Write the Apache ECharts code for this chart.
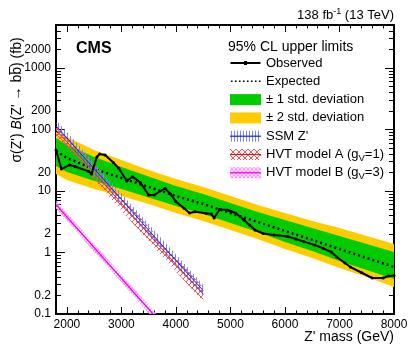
<!DOCTYPE html>
<html>
<head>
<meta charset="utf-8">
<script src="https://cdn.jsdelivr.net/npm/echarts@6/dist/echarts.min.js"></script>
<style>
  html, body { margin: 0; padding: 0; background: #fff; }
  #chart { width: 409px; height: 346px; }
</style>
</head>
<body>
<div id="chart"></div>
<script>
// limits on sigma x B(Z' -> bb), fb
const expMass = [1800, 2000, 2500, 3000, 3500, 4000, 4500, 5000, 5500, 6000, 6500, 7000, 7500, 8000];
const expected = [44.7, 34.4, 22.8, 16.3, 11.6, 8.29, 6.15, 4.39, 3.13, 2.24, 1.60, 1.14, 0.814, 0.581];
const band1Hi = [72.7, 56.0, 35.7, 24.6, 17.2, 12.05, 8.94, 6.38, 4.55, 3.38, 2.51, 1.85, 1.37, 1.02];
const band1Lo = [25.5, 20.4, 14.5, 10.8, 7.83, 5.70, 4.23, 3.02, 2.15, 1.48, 1.06, 0.727, 0.519, 0.371];
const band2Hi = [91.0, 75.5, 46.4, 32.0, 21.9, 15.7, 11.6, 8.30, 5.92, 4.39, 3.26, 2.50, 1.86, 1.37];
const band2Lo = [18.9, 15.1, 10.8, 8.31, 6.14, 4.39, 3.25, 2.32, 1.66, 1.14, 0.816, 0.560, 0.400, 0.275];

const obsMass = [1800, 1900, 2050, 2150, 2400, 2450, 2550, 2600, 2700, 2850, 2950, 3100, 3200, 3350,
  3500, 3600, 3800, 3900, 4000, 4150, 4250, 4350, 4550, 4650, 4700, 4800, 4950, 5000, 5100, 5250,
  5350, 5450, 5600, 5800, 6050, 6200, 6350, 6550, 6700, 6850, 6950, 7100, 7200, 7400, 7600, 7800, 7900, 8000];
const observed = [46.4, 22.8, 26.5, 25.0, 20.8, 18.9, 35.7, 40.0, 38.5, 29.1, 23.4, 14.5, 17.1, 13.7,
  8.61, 8.61, 11.0, 8.94, 6.70, 5.23, 4.39, 4.61, 4.34, 4.23, 3.64, 5.00, 4.91, 4.73, 4.34, 3.38,
  2.80, 2.32, 2.04, 1.93, 1.82, 1.66, 1.50, 1.32, 1.17, 1.02, 0.845, 0.675, 0.581, 0.473, 0.385, 0.385, 0.415, 0.423];

// theory curves
const sigMass = [1800, 2000, 2500, 3000, 3500, 4000, 4500];
const ssm = [114, 73, 23, 7.3, 2.3, 0.74, 0.24];
const ssmHi = [142, 91, 29, 9.1, 2.9, 0.93, 0.30];
const ssmLo = [91, 58, 18.4, 5.8, 1.84, 0.59, 0.19];
const hvtA = [98, 63, 20, 6.3, 2.0, 0.64, 0.21];
const hvtAHi = [127, 82, 26, 8.2, 2.6, 0.83, 0.27];
const hvtALo = [75, 48, 15.4, 4.8, 1.54, 0.49, 0.16];
const hvtBMass = [1800, 2000, 2500, 3000, 3500, 4000];
const hvtB = [6.0, 3.8, 1.20, 0.38, 0.12, 0.038];
const hvtBHi = [7.0, 4.4, 1.39, 0.44, 0.139, 0.044];
const hvtBLo = [5.2, 3.3, 1.03, 0.33, 0.103, 0.033];

const xLabels = [2000, 3000, 4000, 5000, 6000, 7000, 8000];
const xMinor = [1800, 2000, 2200, 2400, 2600, 2800, 3000, 3200, 3400, 3600, 3800, 4000, 4200, 4400, 4600,
  4800, 5000, 5200, 5400, 5600, 5800, 6000, 6200, 6400, 6600, 6800, 7000, 7200, 7400, 7600, 7800, 8000];
const yLabels = [0.1, 0.2, 1, 2, 10, 20, 100, 200, 1000, 2000];
const yMajor = [0.1, 1, 10, 100, 1000];
const yMinor = [0.2, 0.3, 0.4, 0.5, 0.6, 0.7, 0.8, 0.9, 2, 3, 4, 5, 6, 7, 8, 9,
  20, 30, 40, 50, 60, 70, 80, 90, 200, 300, 400, 500, 600, 700, 800, 900, 2000, 3000, 4000, 5000];

const FONT = 'Liberation Sans, Arial, Helvetica, sans-serif';
const YMIN = 0.1, YMAX = 5000;

const pts = (xs, ys) => xs.map((x, i) => [x, ys[i]]);

function hatch(size, color, draw, bg) {
  const c = document.createElement('canvas');
  c.width = c.height = size;
  const g = c.getContext('2d');
  if (bg) { g.fillStyle = bg; g.fillRect(0, 0, size, size); }
  g.strokeStyle = color;
  g.lineWidth = 1;
  g.beginPath();
  draw(g, size);
  g.stroke();
  return { image: c, repeat: 'repeat' };
}
const ssmFill = hatch(3, '#6d8cff', (g, s) => { g.moveTo(1.5, 0); g.lineTo(1.5, s); });
const hvtAFill = hatch(6, '#ff5050', (g, s) => { g.moveTo(0, 0); g.lineTo(s, s); g.moveTo(s, 0); g.lineTo(0, s); });
const hvtBFill = hatch(4, '#ff90ff', (g, s) => { g.moveTo(0, 0); g.lineTo(s, s); g.moveTo(s, 0); g.lineTo(0, s); }, 'rgba(255,210,255,0.6)');

// filled band between lo and hi, drawn as one polygon through the axes
function band(name, xs, lo, hi, fill, z) {
  return {
    type: 'custom', name: name, silent: true, z: z, clip: true,
    data: pts(xs, hi),
    renderItem: function (params, api) {
      if (params.dataIndex !== 0) return null;
      const up = xs.map((x, i) => api.coord([x, hi[i]]));
      const dn = xs.map((x, i) => api.coord([x, lo[i]])).reverse();
      const cs = params.coordSys;
      return {
        type: 'group',
        clipPath: { type: 'rect', shape: { x: cs.x, y: cs.y, width: cs.width, height: cs.height } },
        children: [{ type: 'polygon', shape: { points: up.concat(dn) }, style: { fill: fill } }]
      };
    }
  };
}
function curve(name, xs, ys, color, width, z) {
  return { type: 'line', name: name, data: pts(xs, ys), symbol: 'none', silent: true, z: z,
    lineStyle: { color: color, width: width }, itemStyle: { color: color } };
}

const L1 = '± 1 std. deviation', L2 = '± 2 std. deviation';
const LS = "SSM Z'", LA = 'HVT model A (gV=1)', LB = 'HVT model B (gV=3)';

// legend icons
const speck = 'M0,0h.01v.01h-.01z M0,11h.01v-.01h-.01z ';
const obsIcon = 'path://' + speck + 'M0,4.5h30v2h-30z M13.5,3.5h3v4h-3z';
let dots = '';
for (let i = 0; i < 8; i++) dots += 'M' + (i * 4 + 0.5) + ',4.75h1.6v1.5h-1.6z ';
const expIcon = 'path://' + speck + dots + 'M30,4.75h.01v.01h-.01z';

// legend rows: first row centre and spacing
const LEG_TOP = 54, ROW = 18.3, ROW0 = LEG_TOP + 9;
const legLine = (row, color) => ({ type: 'line', z: 100,
  shape: { x1: 230, y1: ROW0 + row * ROW, x2: 261, y2: ROW0 + row * ROW }, style: { stroke: color, lineWidth: 1.2 } });

const tickAxis = (pos, vals, len, extra) => Object.assign({
  type: 'value', position: pos, min: extra.min, max: extra.max,
  axisLine: { show: false, onZero: false }, splitLine: { show: false },
  axisTick: { show: true, inside: true, length: len, customValues: vals, lineStyle: { color: '#000', width: 1 } },
  axisLabel: { show: false }
}, extra.more || {});

const lg = v => Math.log10(v);
const yExt = { min: lg(YMIN), max: lg(YMAX) };
const xExt = { min: 1800, max: 8000 };
const frame = { show: true, onZero: false, lineStyle: { color: '#000', width: 2 } };

const chart = echarts.init(document.getElementById('chart'));
chart.setOption({
  animation: false,
  backgroundColor: '#fff',
  grid: { left: 56, right: 15, top: 25, bottom: 32, outerBoundsMode: 'none' },
  xAxis: [
    { type: 'value', position: 'bottom', min: 1800, max: 8000,
      axisLine: frame, splitLine: { show: false },
      axisTick: { show: true, inside: true, length: 7, customValues: xLabels, lineStyle: { color: '#000', width: 1 } },
      axisLabel: { customValues: xLabels, margin: 5, color: '#000', fontSize: 12, fontFamily: FONT, formatter: v => String(v) } },
    tickAxis('bottom', xMinor, 3.5, xExt),
    tickAxis('top', xLabels, 7, { min: 1800, max: 8000, more: { axisLine: frame } }),
    tickAxis('top', xMinor, 3.5, xExt)
  ],
  yAxis: [
    { type: 'log', logBase: 10, min: YMIN, max: YMAX, position: 'left',
      axisLine: frame,
      axisTick: { show: false }, axisLabel: { show: false }, splitLine: { show: false }, minorTick: { show: false } },
    tickAxis('left', yMajor.map(lg), 9, { min: yExt.min, max: yExt.max, more: {
      axisLabel: { show: true, customValues: yLabels.map(lg), margin: 5, color: '#000', fontSize: 12, fontFamily: FONT,
        formatter: v => String(Number(Math.pow(10, v).toPrecision(1))) } } }),
    tickAxis('left', yMinor.map(lg), 5, yExt),
    tickAxis('right', yMajor.map(lg), 9, { min: yExt.min, max: yExt.max, more: { axisLine: frame } }),
    tickAxis('right', yMinor.map(lg), 5, yExt)
  ],
  legend: {
    orient: 'vertical', left: 230, top: LEG_TOP, padding: 0, itemWidth: 31, itemHeight: 11, itemGap: 0.3,
    selectedMode: false,
    textStyle: { fontSize: 13, lineHeight: 18, color: '#000', fontFamily: FONT,
      rich: { sub: { fontSize: 9.5, lineHeight: 18, verticalAlign: 'bottom', color: '#000', fontFamily: FONT } } },
    formatter: n => n.replace('gV', 'g{sub|V}'),
    data: [
      { name: 'Observed', icon: obsIcon, itemStyle: { color: '#000', borderWidth: 0 } },
      { name: 'Expected', icon: expIcon, itemStyle: { color: '#000', borderWidth: 0 } },
      { name: L1, icon: 'rect', itemStyle: { color: '#00cc00', borderWidth: 0 } },
      { name: L2, icon: 'rect', itemStyle: { color: '#ffcc00', borderWidth: 0 } },
      { name: LS, icon: 'rect', itemStyle: { color: ssmFill, borderWidth: 0 } },
      { name: LA, icon: 'rect', itemStyle: { color: hvtAFill, borderWidth: 0 } },
      { name: LB, icon: 'rect', itemStyle: { color: hvtBFill, borderWidth: 0 } }
    ]
  },
  graphic: [
    { type: 'text', x: 17, y: 100, rotation: Math.PI / 2,
      style: { text: "σ(Z') {i|B}(Z' → bb\u0305) (fb)", fontSize: 14, fontFamily: FONT, fill: '#000',
        align: 'center', verticalAlign: 'middle', rich: { i: { fontStyle: 'italic', fontSize: 14, fontFamily: FONT } } } },
    { type: 'text', x: 394, y: 337, style: { text: "Z' mass (GeV)", fontSize: 14, fontFamily: FONT, fill: '#000', align: 'right', verticalAlign: 'middle' } },
    { type: 'text', x: 394, y: 15, style: { text: '138 fb{sup|-1} (13 TeV)', fontSize: 13, lineHeight: 16, fontFamily: FONT, fill: '#000',
        align: 'right', verticalAlign: 'middle', rich: { sup: { fontSize: 9, lineHeight: 16, verticalAlign: 'top', fontFamily: FONT } } } },
    { type: 'text', x: 76, y: 49, style: { text: 'CMS', fontSize: 16, fontWeight: 'bold', fontFamily: FONT, fill: '#000', verticalAlign: 'middle' } },
    { type: 'text', x: 228, y: 46.7, style: { text: '95% CL upper limits', fontSize: 14, fontFamily: FONT, fill: '#000', verticalAlign: 'middle' } },
    legLine(4, '#1a1aff'),
    legLine(5, '#d42020'),
    legLine(6, '#e000e0')
  ],
  series: [
    band(L2, expMass, band2Lo, band2Hi, '#ffcc00', 1),
    band(L1, expMass, band1Lo, band1Hi, '#00cc00', 1),
    { type: 'line', name: 'Expected', data: pts(expMass, expected), symbol: 'none', silent: true, z: 2,
      lineStyle: { color: '#000', width: 2.5, type: [2, 3] }, itemStyle: { color: '#000' } },
    band(LB, hvtBMass, hvtBLo, hvtBHi, hvtBFill, 3),
    band(LA, sigMass, hvtALo, hvtAHi, hvtAFill, 3),
    band(LS, sigMass, ssmLo, ssmHi, ssmFill, 3),
    curve(LB, hvtBMass, hvtB, '#e000e0', 1.2, 4),
    curve(LA, sigMass, hvtA, '#d42020', 1, 4),
    curve(LS, sigMass, ssm, '#1a1aff', 1, 4),
    { type: 'line', name: 'Observed', data: pts(obsMass, observed), symbol: 'circle', symbolSize: 3,
      showAllSymbol: true, silent: true, z: 5,
      lineStyle: { color: '#000', width: 2 }, itemStyle: { color: '#000' } }
  ]
});
</script>
</body>
</html>
